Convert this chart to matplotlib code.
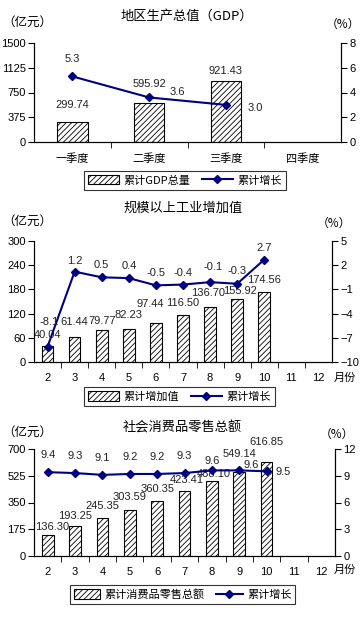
import matplotlib
matplotlib.use('Agg')
import matplotlib.pyplot as plt
from matplotlib.patches import Patch
from matplotlib.lines import Line2D

plt.rcParams['font.family'] = ['Liberation Sans', 'Noto Sans CJK SC']
plt.rcParams['hatch.linewidth'] = 0.6
plt.rcParams['hatch.color'] = '#333333'

W, H = 364, 619
NAVY = '#000080'

# panel 1: GDP
gdp_cats = ['一季度', '二季度', '三季度', '四季度']
gdp_vals = [299.74, 595.92, 921.43]
gdp_growth = [5.3, 3.6, 3.0]

# panel 2: industrial value added
months = ['2', '3', '4', '5', '6', '7', '8', '9', '10', '11', '12']
ind_vals = [40.04, 61.44, 79.77, 82.23, 97.44, 116.50, 136.70, 155.92, 174.56]
ind_growth = [-8.1, 1.2, 0.5, 0.4, -0.5, -0.4, -0.1, -0.3, 2.7]

# panel 3: retail sales
ret_vals = [136.30, 193.25, 245.35, 303.59, 360.35, 423.41, 488.10, 549.14, 616.85]
ret_growth = [9.4, 9.3, 9.1, 9.2, 9.2, 9.3, 9.6, 9.6, 9.5]

fig = plt.figure(figsize=(W / 100, H / 100), dpi=100)


def ax_at(l, t, r, b):
    return fig.add_axes([l / W, 1 - b / H, (r - l) / W, (b - t) / H])


def fx(x):
    return x / W


def fy(y):
    return 1 - y / H


def panel(box, cats, vals, growth, ylim, yticks, y2lim, y2ticks, barw,
          bar_off, line_off, title, tx, ty, unit_y, leg_box, bar_label, hlen):
    ax = ax_at(*box)
    n = len(cats)
    x = list(range(n))
    ax.bar(x[:len(vals)], vals, width=barw, color='white', edgecolor='black',
           hatch='//////', linewidth=0.8, zorder=2)
    ax.set_xlim(-0.5, n - 0.5)
    ax.set_ylim(*ylim)
    ax.set_yticks(yticks)
    ax.set_xticks(x)
    ax.set_xticklabels(cats, fontsize=8)
    ax.set_xticks([i + 0.5 for i in range(n - 1)], minor=True)
    ax.tick_params(axis='x', which='major', length=0, pad=8)
    ax.tick_params(axis='x', which='minor', length=4, direction='out')
    ax.tick_params(axis='y', labelsize=8, length=4, direction='out', pad=2)
    ax.spines['top'].set_visible(False)
    for s in ax.spines.values():
        s.set_linewidth(0.8)
    ax2 = ax.twinx()
    ax2.set_ylim(*y2lim)
    ax2.set_yticks(y2ticks)
    ax2.tick_params(axis='y', labelsize=8, length=4, direction='out', pad=2)
    ax2.spines['top'].set_visible(False)
    for s in ax2.spines.values():
        s.set_linewidth(0.8)
    ax2.plot(x[:len(growth)], growth, color=NAVY, marker='D', markersize=4.5,
             linewidth=1.5, zorder=3)
    for i, v in enumerate(vals):
        dx, dy = bar_off[i]
        ax.annotate(f'{v:.2f}', (i, v), xytext=(dx, dy), textcoords='offset pixels',
                    ha='center', va='bottom', fontsize=8, color='#222222')
    for i, g in enumerate(growth):
        dx, dy = line_off[i]
        ax2.annotate(f'{g:.1f}', (i, g), xytext=(dx, dy), textcoords='offset pixels',
                     ha='center', va='bottom', fontsize=8, color='#222222')
    fig.text(fx(tx), fy(ty), title, ha='center', va='center',
             fontsize=9.5, family=['Noto Sans CJK SC'])
    fig.text(fx(2), fy(unit_y), '（亿元）', ha='left', va='center', fontsize=9,
             family=['Noto Sans CJK SC'])
    fig.text(fx(box[2] + 2), fy(unit_y + 2), '（%）', ha='center', va='center', fontsize=8.5,
             family=['Noto Sans CJK SC'])
    handles = [Patch(facecolor='white', edgecolor='black', hatch='//////', linewidth=0.8),
               Line2D([], [], color=NAVY, marker='D', markersize=4.5, linewidth=1.5)]
    l, t, r, b = leg_box
    leg = fig.legend(handles, [bar_label, '累计增长'], loc='center',
                     bbox_to_anchor=(fx((l + r) / 2), fy((t + b) / 2)), ncol=2,
                     frameon=True, fancybox=False, handlelength=hlen,
                     handleheight=0.9, columnspacing=1.0, handletextpad=0.4,
                     borderpad=0.35, prop={'family': ['Noto Sans CJK SC'], 'size': 8})
    leg.get_frame().set_edgecolor('black')
    leg.get_frame().set_linewidth(0.8)
    return ax, ax2


panel((34, 43, 341, 142), gdp_cats, gdp_vals, gdp_growth,
      (0, 1500), [0, 375, 750, 1125, 1500], (0, 8), [0, 2, 4, 6, 8], 0.4,
      [(0, 12), (0, 14), (0, 5)],
      [(0, 12), (28, 0), (29, -8)],
      '地区生产总值（GDP）', 187, 16, 22, (78, 170, 292, 191), '累计GDP总量', 2.8)

ax, ax2 = panel((34, 241, 332, 362), months, ind_vals, ind_growth,
                (0, 300), [0, 60, 120, 180, 240, 300], (-10, 5), [-10, -7, -4, -1, 2, 5], 0.43,
                [(0, 6), (0, 10), (0, 4), (0, 9), (-6, 14), (0, 7), (-2, 9), (3, 3), (0, 7)],
                [(2, 20), (0, 6), (0, 7), (0, 7), (0, 7), (0, 7), (3, 10), (0, 8), (0, 7)],
                '规模以上工业增加值', 183, 208, 221, (77, 386, 282, 407), '累计增加值', 2.8)
fig.text(fx(345), fy(378), '月份', ha='center', va='center', fontsize=8,
         family=['Noto Sans CJK SC'])

ax, ax2 = panel((34, 449, 335, 556), months, ret_vals, ret_growth,
                (0, 700), [0, 175, 350, 525, 700], (0, 12), [0, 3, 6, 9, 12], 0.43,
                [(4, 3), (0, 5), (0, 7), (0, 8), (0, 7), (2, 6), (2, 2), (0, 13), (0, 15)],
                [(0, 12), (0, 12), (0, 12), (0, 12), (0, 12), (0, 12), (0, 4), (12, 0), (17, -6)],
                '社会消费品零售总额', 182, 428, 432, (73, 583, 292, 606), '累计消费品零售总额', 2.4)
fig.text(fx(345), fy(570), '月份', ha='center', va='center', fontsize=8,
         family=['Noto Sans CJK SC'])

fig.savefig('out.png', dpi=100)
